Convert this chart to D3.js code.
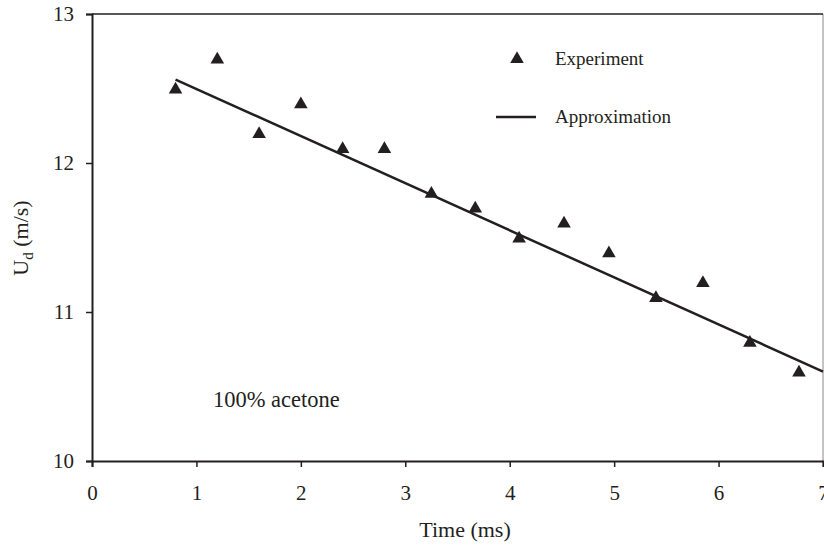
<!DOCTYPE html>
<html><head><meta charset="utf-8">
<script src="https://cdn.jsdelivr.net/npm/d3@7"></script>
<style>body{margin:0;background:#fff}svg{display:block}text{font-family:"Liberation Serif","Times New Roman",serif;fill:#231f20}</style>
</head><body><svg id="c" width="824" height="545"></svg>
<script>
const timeMs = [0.8, 1.2, 1.6, 2.0, 2.4, 2.8, 3.25, 3.67, 4.09, 4.52, 4.95, 5.4, 5.85, 6.3, 6.77];
const ud = [12.5, 12.7, 12.2, 12.4, 12.1, 12.1, 11.8, 11.7, 11.5, 11.6, 11.4, 11.1, 11.2, 10.8, 10.6];
const fitX = [0.8, 7.0];
const fitY = [12.56, 10.6];
const xTicks = [0, 1, 2, 3, 4, 5, 6, 7];
const yTicks = [10, 11, 12, 13];

const svg = d3.select("#c");
const m = {l: 92, t: 14, r: 823, b: 461};
const x = d3.scaleLinear().domain([0, 7]).range([m.l, m.r]);
const y = d3.scaleLinear().domain([10, 13]).range([m.b, m.t]);
const ink = "#231f20";

// frame
svg.append("line").attr("x1", m.r).attr("x2", m.r).attr("y1", m.t).attr("y2", m.b).attr("stroke", "#888").attr("stroke-width", 1);
svg.append("line").attr("x1", m.l).attr("x2", m.r).attr("y1", m.t).attr("y2", m.t).attr("stroke", ink).attr("stroke-width", 1.5);

const xa = svg.append("g").attr("transform", `translate(0,${m.b})`)
  .call(d3.axisBottom(x).tickValues(xTicks).tickFormat(d3.format("d")).tickSizeOuter(0).tickSize(6).tickPadding(18));
const ya = svg.append("g").attr("transform", `translate(${m.l},0)`)
  .call(d3.axisLeft(y).tickValues(yTicks).tickFormat(d3.format("d")).tickSizeOuter(0).tickSize(6).tickPadding(12));
[xa, ya].forEach(g => {
  g.attr("font-size", 21).attr("font-family", '"Liberation Serif",serif');
  g.select(".domain").attr("stroke", ink).attr("stroke-width", 2);
  g.selectAll(".tick line").attr("stroke", ink).attr("stroke-width", 1.5);
  g.selectAll(".tick text").attr("fill", ink).style("font-size", "21px").style("font-family", '"Liberation Serif",serif');
});

// fit line
svg.append("path").datum(fitX.map((d, i) => [d, fitY[i]]))
  .attr("d", d3.line().x(d => x(d[0])).y(d => y(d[1])))
  .attr("fill", "none").attr("stroke", ink).attr("stroke-width", 2.5);

// experiment markers
const tri = d3.symbol().type(d3.symbolTriangle).size(80);
svg.selectAll(".pt").data(timeMs.map((d, i) => [d, ud[i]])).join("path")
  .attr("transform", d => `translate(${x(d[0])},${y(d[1]) + 1})`)
  .attr("d", tri).attr("fill", ink);

// legend
svg.append("path").attr("transform", "translate(517,59)").attr("d", tri).attr("fill", ink);
svg.append("text").attr("x", 555).attr("y", 65).attr("font-size", 19).text("Experiment");
svg.append("line").attr("x1", 496).attr("x2", 536).attr("y1", 117).attr("y2", 117).attr("stroke", ink).attr("stroke-width", 2.5);
svg.append("text").attr("x", 555).attr("y", 123).attr("font-size", 19).text("Approximation");

// annotation
svg.append("text").attr("x", 213).attr("y", 407).attr("font-size", 22.5).text("100% acetone");

// axis titles
svg.append("text").attr("x", 465).attr("y", 537).attr("text-anchor", "middle").attr("font-size", 22).text("Time (ms)");
const yt = svg.append("text").attr("transform", `translate(28,238) rotate(-90)`).attr("text-anchor", "middle").attr("font-size", 22);
yt.append("tspan").text("U");
yt.append("tspan").attr("dy", 5).attr("font-size", 15).text("d");
yt.append("tspan").attr("dy", -5).text(" (m/s)");
</script></body></html>
